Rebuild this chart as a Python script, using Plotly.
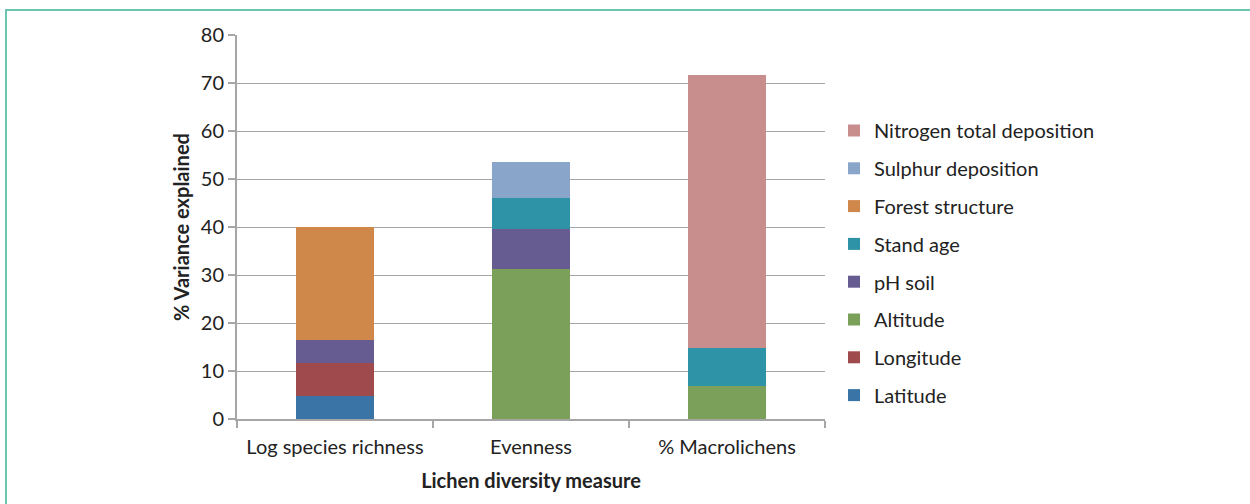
import plotly.graph_objects as go

categories = ["Log species richness", "Evenness", "% Macrolichens"]

latitude = [4.7, 0, 0]
longitude = [6.9, 0, 0]
altitude = [0, 31.3, 6.8]
ph_soil = [4.8, 8.35, 0]
stand_age = [0, 6.45, 8.0]
forest_structure = [23.6, 0, 0]
sulphur_deposition = [0, 7.5, 0]
nitrogen_deposition = [0, 0, 56.9]

series = [
    ("Latitude", latitude, "#3A74A6"),
    ("Longitude", longitude, "#9F4A4C"),
    ("Altitude", altitude, "#7AA05A"),
    ("pH soil", ph_soil, "#665C92"),
    ("Stand age", stand_age, "#2F93A8"),
    ("Forest structure", forest_structure, "#D0874A"),
    ("Sulphur deposition", sulphur_deposition, "#89A5CA"),
    ("Nitrogen total deposition", nitrogen_deposition, "#C88E8D"),
]

FONT = "Lato, 'Open Sans', sans-serif"
FS = 20

fig = go.Figure()
n = len(series)
for i, (name, vals, col) in enumerate(series):
    fig.add_trace(go.Bar(x=categories, y=vals, name=name, marker_color=col,
                         marker_line_width=0, legendgroup=name,
                         legendrank=n - i))

L, R, T, B = 237, 825, 35, 419
W, H = 1250, 504

def px(x):
    return (x - L) / (R - L)

def py(y):
    return (B - y) / (B - T)

fig.update_layout(
    width=W, height=H,
    margin=dict(l=L, r=W - R, t=T, b=H - B),
    barmode="stack", bargap=0.6,
    plot_bgcolor="white", paper_bgcolor="white",
    font=dict(family=FONT, size=FS, color="#222222"),
    showlegend=True,
    legend=dict(traceorder="grouped", tracegroupgap=8.8,
                x=px(834), y=py(111), xanchor="left", yanchor="top",
                font=dict(size=FS, color="#222222"),
                itemwidth=30, bgcolor="rgba(0,0,0,0)"),
    xaxis=dict(showline=True, linecolor="#A6A6A6", linewidth=2,
               ticks="outside", tickson="boundaries", ticklen=7,
               tickcolor="#A6A6A6", tickwidth=1.5,
               ticklabelstandoff=9,
               tickfont=dict(size=FS, color="#222222"),
               title=dict(text="<b>Lichen diversity measure</b>",
                          font=dict(size=FS, color="#222222"), standoff=17)),
    yaxis=dict(range=[0, 80], dtick=10, showline=True, linecolor="#A6A6A6",
               linewidth=2, showgrid=True, gridcolor="#A6A6A6", gridwidth=1.3,
               ticks="outside", ticklen=7, tickcolor="#A6A6A6", tickwidth=1.5,
               tickfont=dict(size=FS, color="#222222"), zeroline=False,
               title=dict(text="<b>% Variance explained</b>",
                          font=dict(size=FS, color="#222222"), standoff=6)),
    shapes=[dict(type="rect", xref="paper", yref="paper",
                 x0=px(6), x1=px(1262), y0=py(520), y1=py(10),
                 line=dict(color="#6CC4B2", width=2), layer="below")],
)

fig.write_html("out.html")
